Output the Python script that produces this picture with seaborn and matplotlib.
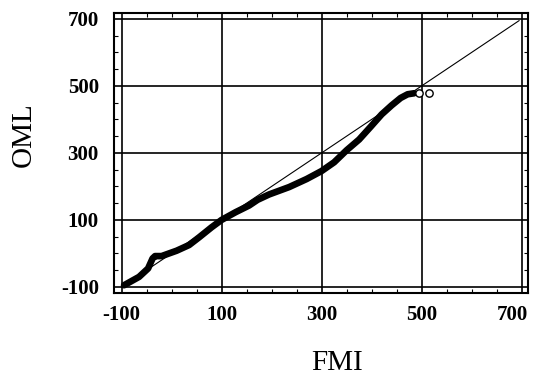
import matplotlib
matplotlib.use("Agg")
import matplotlib.pyplot as plt
from matplotlib.ticker import MultipleLocator, FixedLocator
from matplotlib.transforms import ScaledTranslation
import seaborn as sns

# Q-Q curve (FMI quantiles vs OML quantiles)
fmi_q = [-95, -65, -47, -38, -33, -20, 10, 35, 55, 80, 100, 128, 155, 172,
         195, 235, 270, 300, 325, 350, 375, 398, 420, 440, 458, 472, 485]
oml_q = [-95, -70, -45, -15, -8, -8, 8, 25, 48, 78, 100, 123, 143, 160,
         176, 198, 222, 246, 272, 308, 340, 378, 415, 442, 464, 475, 478]
# two outlying points drawn as open circles
fmi_out = [495, 514]
oml_out = [478, 478]
# reference line y = x
ref_x = [-100, 695]
ref_y = [-100, 695]
tick_vals = [-100, 100, 300, 500, 700]
tick_labels = ["-100", "100", "300", "500", "700"]

sns.set_style("white")
plt.rcParams['font.family'] = ['Liberation Serif', 'DejaVu Serif']
plt.rcParams['text.color'] = 'black'
plt.rcParams['axes.labelcolor'] = 'black'
plt.rcParams['xtick.color'] = 'black'
plt.rcParams['ytick.color'] = 'black'

fig = plt.figure(figsize=(5.33, 3.78), dpi=100)
ax = fig.add_axes([0.214, 0.225, 0.777, 0.741])

# grid lines
for v in tick_vals:
    ax.axvline(v, color='black', lw=1.2, zorder=1)
    ax.axhline(v, color='black', lw=1.2, zorder=1)

sns.lineplot(x=ref_x, y=ref_y, ax=ax, color='black', lw=0.8, sort=False, zorder=2)
sns.lineplot(x=fmi_q, y=oml_q, ax=ax, color='black', lw=4.8, sort=False,
             zorder=3, solid_capstyle='round', solid_joinstyle='round')
sns.scatterplot(x=fmi_out, y=oml_out, ax=ax, s=28, facecolor='white',
                edgecolor='black', linewidth=1.0, zorder=4)

ax.set_xlim(-115, 713)
ax.set_ylim(-118, 718)

ax.xaxis.set_major_locator(FixedLocator(tick_vals))
ax.yaxis.set_major_locator(FixedLocator(tick_vals))
ax.set_xticklabels(tick_labels, fontsize=15, fontweight='bold', color='black')
ax.set_yticklabels(tick_labels, fontsize=15, fontweight='bold', color='black')
ax.xaxis.set_minor_locator(MultipleLocator(50))
ax.yaxis.set_minor_locator(MultipleLocator(50))
ax.tick_params(axis='x', which='major', length=0, pad=9)
ax.tick_params(axis='y', which='major', length=0, pad=11)
ax.tick_params(which='minor', direction='in', length=3, width=0.8,
               top=True, right=True, bottom=True, left=True, color='black')

# keep the last x label inside the figure (as in the reference)
last = ax.get_xticklabels()[-1]
last.set_transform(last.get_transform() + ScaledTranslation(-7 / 72, 0, fig.dpi_scale_trans))

for sp in ax.spines.values():
    sp.set_visible(True)
    sp.set_color('black')
    sp.set_linewidth(1.5)

ax.set_xlabel("FMI", fontsize=21, color='black')
ax.set_ylabel("OML", fontsize=21, color='black')
ax.xaxis.label.set_va('center')
ax.yaxis.label.set_va('center')
ax.xaxis.set_label_coords(0.539, -0.25)
ax.yaxis.set_label_coords(-0.217, 0.564)

fig.savefig("out.png", dpi=100)
